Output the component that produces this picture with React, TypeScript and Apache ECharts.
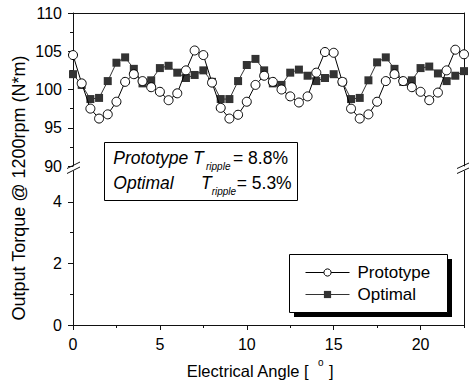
import React, { useEffect, useRef } from "react";
import * as echarts from "echarts";

const angles = [
  0, 0.5, 1, 1.5, 2, 2.5, 3, 3.5, 4, 4.5,
  5, 5.5, 6, 6.5, 7, 7.5, 8, 8.5, 9, 9.5,
  10, 10.5, 11, 11.5, 12, 12.5, 13, 13.5, 14, 14.5,
  15, 15.5, 16, 16.5, 17, 17.5, 18, 18.5, 19, 19.5,
  20, 20.5, 21, 21.5, 22, 22.5,
];

const prototypeTorque = [
  104.5, 100.8, 97.5, 96.2, 96.75, 98.4, 101.0, 102.0, 101.1, 100.3,
  99.7, 98.6, 99.5, 102.5, 105.1, 104.5, 100.9, 97.6, 96.2, 96.7,
  98.4, 100.6, 101.8, 101.0, 100.0, 99.1, 98.3, 99.1, 102.2, 104.9,
  104.8, 101.0, 97.5, 96.2, 96.75, 98.4, 101.1, 102.0, 101.1, 100.3,
  99.7, 98.6, 99.6, 102.5, 105.2, 104.6,
];

const optimalTorque = [
  102.0, 100.6, 98.75, 98.9, 101.1, 103.5, 104.2, 102.7, 100.8, 101.2,
  102.8, 103.1, 102.2, 101.5, 101.9, 102.5, 101.0, 98.75, 98.75, 101.1,
  103.2, 104.0, 102.5, 100.8, 100.6, 102.2, 102.6, 101.8, 101.1, 101.5,
  102.0, 101.0, 98.75, 98.9, 101.2, 103.55, 104.2, 102.7, 101.0, 101.2,
  102.8, 103.0, 102.1, 101.1, 101.8, 102.4,
];

const xMajorTicks = [0, 5, 10, 15, 20];
const xMinorTicks = [2.5, 7.5, 12.5, 17.5, 22.5];
const lowerYMajorTicks = [0, 2, 4];
const lowerYMinorTicks = [1, 3];

const seriesNames = ["Prototype", "Optimal"];
const xTitle = "Electrical Angle [";
const yTitle = "Output Torque @ 1200rpm (N*m)";

const F = "'Liberation Sans', Arial, Helvetica, sans-serif";
const AX = "#111";

export default function App() {
  const ref = useRef<HTMLDivElement>(null);

  useEffect(() => {
    if (!ref.current) return;
    const chart = echarts.init(ref.current, undefined, { renderer: "svg" });

    const lineStyle = { color: AX, width: 1 };
    const noSplit = { show: false };

    const txt = (
      text: string,
      x: number,
      y: number,
      fontSize: number,
      italic = false,
      extra: any = {}
    ) => ({
      type: "text",
      x,
      y,
      z: 10,
      ...extra,
      style: {
        text,
        fill: "#000",
        fontSize,
        fontFamily: F,
        fontStyle: italic ? "italic" : "normal",
        align: extra.align || "left",
        verticalAlign: "middle",
      },
    });

    const option: any = {
      animation: false,
      backgroundColor: "#fff",
      grid: [
        { left: 73, top: 13, width: 391, height: 153 },
        { left: 73, top: 171, width: 391, height: 154 },
      ],
      xAxis: [
        {
          gridIndex: 0,
          type: "value",
          min: 0,
          max: 22.5,
          position: "top",
          axisLine: { show: true, lineStyle },
          axisTick: { show: false },
          axisLabel: { show: false },
          splitLine: noSplit,
        },
        {
          gridIndex: 1,
          type: "value",
          min: 0,
          max: 22.5,
          position: "bottom",
          axisLine: { show: true, onZero: false, lineStyle },
          axisTick: { show: true, inside: false, length: 5, customValues: xMajorTicks, lineStyle },
          axisLabel: {
            show: true,
            customValues: xMajorTicks,
            margin: 11,
            fontSize: 16,
            color: "#000",
            fontFamily: F,
          },
          splitLine: noSplit,
        },
        {
          gridIndex: 1,
          type: "value",
          min: 0,
          max: 22.5,
          position: "bottom",
          axisLine: { show: false, onZero: false },
          axisTick: { show: true, inside: false, length: 3, customValues: xMinorTicks, lineStyle },
          axisLabel: { show: false },
          splitLine: noSplit,
        },
      ],
      yAxis: [
        {
          gridIndex: 0,
          type: "value",
          min: 90,
          max: 110,
          interval: 5,
          position: "left",
          axisLine: { show: true, onZero: false, lineStyle },
          axisTick: { show: true, inside: false, length: 5, lineStyle },
          minorTick: { show: true, splitNumber: 2, length: 3, lineStyle },
          axisLabel: { margin: 11, fontSize: 16, color: "#000", fontFamily: F },
          splitLine: noSplit,
          minorSplitLine: noSplit,
        },
        {
          gridIndex: 0,
          type: "value",
          min: 90,
          max: 110,
          position: "right",
          axisLine: { show: true, onZero: false, lineStyle },
          axisTick: { show: false },
          axisLabel: { show: false },
          splitLine: noSplit,
        },
        {
          gridIndex: 1,
          type: "value",
          min: 0,
          max: 5,
          position: "left",
          axisLine: { show: true, onZero: false, lineStyle },
          axisTick: { show: true, inside: false, length: 5, customValues: lowerYMajorTicks, lineStyle },
          axisLabel: {
            customValues: lowerYMajorTicks,
            margin: 11,
            fontSize: 16,
            color: "#000",
            fontFamily: F,
          },
          splitLine: noSplit,
        },
        {
          gridIndex: 1,
          type: "value",
          min: 0,
          max: 5,
          position: "left",
          axisLine: { show: false, onZero: false },
          axisTick: { show: true, inside: false, length: 3, customValues: lowerYMinorTicks, lineStyle },
          axisLabel: { show: false },
          splitLine: noSplit,
        },
        {
          gridIndex: 1,
          type: "value",
          min: 0,
          max: 5,
          position: "right",
          axisLine: { show: true, onZero: false, lineStyle },
          axisTick: { show: false },
          axisLabel: { show: false },
          splitLine: noSplit,
        },
      ],
      legend: {
        data: seriesNames,
        orient: "vertical",
        left: 305,
        top: 264,
        padding: 0,
        itemWidth: 44,
        itemHeight: 9,
        itemGap: 5,
        z: 6,
        selectedMode: false,
        itemStyle: { borderWidth: 1 },
        lineStyle: { width: 1 },
        textStyle: { fontSize: 17, fontFamily: F, color: "#000", padding: [0, 0, 0, 3] },
      },
      series: [
        {
          name: seriesNames[1],
          type: "line",
          xAxisIndex: 0,
          yAxisIndex: 0,
          data: angles.map((a, i) => [a, optimalTorque[i]]),
          symbol: "rect",
          symbolSize: 8,
          showAllSymbol: true,
          clip: false,
          itemStyle: { color: "#333", borderWidth: 0 },
          lineStyle: { color: "#333", width: 1 },
          emphasis: { disabled: true },
          z: 2,
        },
        {
          name: seriesNames[0],
          type: "line",
          xAxisIndex: 0,
          yAxisIndex: 0,
          data: angles.map((a, i) => [a, prototypeTorque[i]]),
          symbol: "circle",
          symbolSize: 9,
          showAllSymbol: true,
          clip: false,
          itemStyle: { color: "#fff", borderColor: "#000", borderWidth: 1 },
          lineStyle: { color: "#000", width: 1 },
          emphasis: { disabled: true },
          z: 3,
        },
      ],
      graphic: [
        // legend shadow and box
        { type: "rect", z: 1, shape: { x: 294, y: 259, width: 158, height: 58 }, style: { fill: "#000" } },
        {
          type: "rect",
          z: 2,
          shape: { x: 289.5, y: 254.5, width: 158, height: 58 },
          style: { fill: "#fff", stroke: "#000", lineWidth: 1 },
        },
        // annotation box
        {
          type: "rect",
          z: 2,
          shape: { x: 104.5, y: 142.5, width: 193, height: 58 },
          style: { fill: "#fff", stroke: "#000", lineWidth: 1 },
        },
        txt("Prototype T", 113.3, 157.5, 17.5, true),
        txt("ripple", 206, 166.5, 10, true),
        txt("= 8.8%", 233, 157.5, 17.5),
        txt("Optimal", 113.3, 182.8, 17.5, true),
        txt("T", 201, 182.8, 17.5, true),
        txt("ripple", 211.7, 191.5, 10, true),
        txt("= 5.3%", 236.7, 182.8, 17.5),
        // axis break marks
        { type: "line", z: 10, shape: { x1: 67, y1: 168.5, x2: 80, y2: 162 }, style: { stroke: AX, lineWidth: 1 } },
        { type: "line", z: 10, shape: { x1: 67, y1: 173.5, x2: 80, y2: 167 }, style: { stroke: AX, lineWidth: 1 } },
        { type: "line", z: 10, shape: { x1: 457, y1: 168.5, x2: 469, y2: 163 }, style: { stroke: AX, lineWidth: 1 } },
        { type: "line", z: 10, shape: { x1: 457, y1: 173.5, x2: 469, y2: 168 }, style: { stroke: AX, lineWidth: 1 } },
        // axis titles
        txt(yTitle, 18.5, 188, 18, false, { rotation: Math.PI / 2, align: "center" }),
        txt(xTitle, 186.7, 371, 16.5),
        txt("o", 318, 362.5, 10),
        txt("]", 329, 371, 16.5),
      ],
    };

    chart.setOption(option);
    return () => chart.dispose();
  }, []);

  return (
    <div
      ref={ref}
      style={{ position: "fixed", left: 0, top: 0, width: 469, height: 385, background: "#fff" }}
    />
  );
}
